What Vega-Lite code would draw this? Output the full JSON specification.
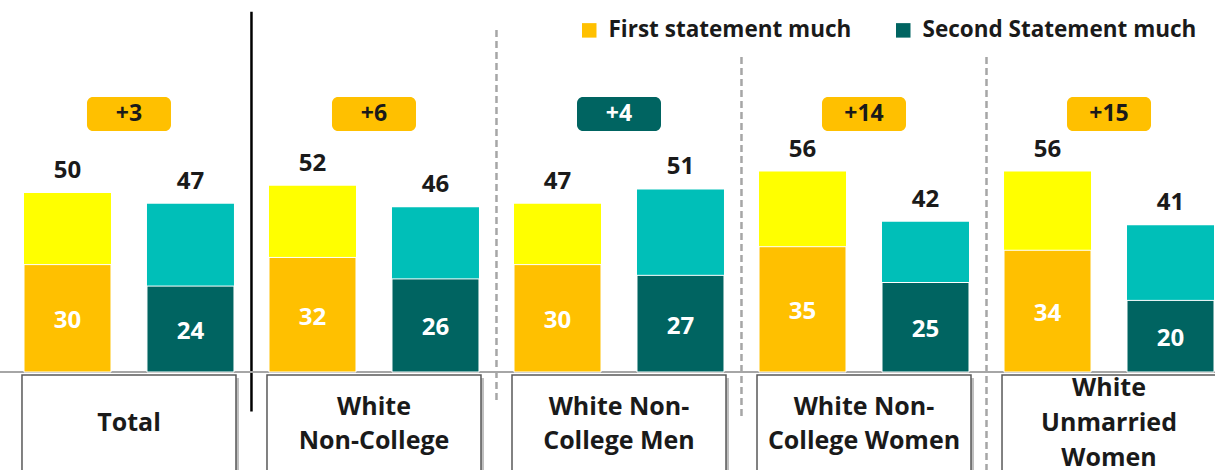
{
  "$schema": "https://vega.github.io/schema/vega-lite/v6.json",
  "width": 1215,
  "height": 470,
  "autosize": {"type": "none"},
  "padding": 0,
  "background": "white",
  "config": {"view": {"stroke": null}, "text": {"font": "Open Sans"}, "legend": {"labelFont": "Open Sans"}},
  "datasets": {
    "bars": [
      {"group": "Total", "statement": "First statement much", "total": 50, "much": 30},
      {"group": "Total", "statement": "Second Statement much", "total": 47, "much": 24},
      {"group": "White Non-College", "statement": "First statement much", "total": 52, "much": 32},
      {"group": "White Non-College", "statement": "Second Statement much", "total": 46, "much": 26},
      {"group": "White Non-College Men", "statement": "First statement much", "total": 47, "much": 30},
      {"group": "White Non-College Men", "statement": "Second Statement much", "total": 51, "much": 27},
      {"group": "White Non-College Women", "statement": "First statement much", "total": 56, "much": 35},
      {"group": "White Non-College Women", "statement": "Second Statement much", "total": 42, "much": 25},
      {"group": "White Unmarried Women", "statement": "First statement much", "total": 56, "much": 34},
      {"group": "White Unmarried Women", "statement": "Second Statement much", "total": 41, "much": 20}
    ],
    "groups": [
      {"group": "Total", "label": ["Total"], "diff": "+3", "statement": "First statement much", "sep": "solid"},
      {"group": "White Non-College", "label": ["White", "Non-College"], "diff": "+6", "statement": "First statement much", "sep": "dash1"},
      {"group": "White Non-College Men", "label": ["White Non-", "College Men"], "diff": "+4", "statement": "Second Statement much", "sep": "dash2"},
      {"group": "White Non-College Women", "label": ["White Non-", "College Women"], "diff": "+14", "statement": "First statement much", "sep": "dash3"},
      {"group": "White Unmarried Women", "label": ["White", "Unmarried", "Women"], "diff": "+15", "statement": "First statement much", "sep": "none"}
    ]
  },
  "encoding": {
    "x": {
      "field": "group", "type": "nominal", "axis": null, "sort": null,
      "scale": {
        "domain": ["Total", "White Non-College", "White Non-College Men", "White Non-College Women", "White Unmarried Women"],
        "range": [24, 1214], "paddingInner": 0.143, "paddingOuter": 0
      }
    }
  },
  "layer": [
    {
      "data": {"name": "groups"},
      "mark": {"type": "bar", "width": 214, "fill": "#BFBFBF", "xOffset": 3, "yOffset": 3},
      "encoding": {
        "y": {"datum": -0.85, "type": "quantitative", "axis": null, "scale": {"domain": [0, 100], "range": [372, 14]}},
        "y2": {"datum": -40}
      }
    },
    {
      "data": {"name": "groups"},
      "mark": {"type": "bar", "width": 214, "fill": "white", "stroke": "#595959", "strokeWidth": 1.5},
      "encoding": {
        "y": {"datum": -0.85, "type": "quantitative"},
        "y2": {"datum": -40}
      }
    },
    {
      "data": {"name": "groups"},
      "transform": [{"filter": "datum.label.length === 1"}],
      "mark": {"type": "text", "fontSize": 25, "fontWeight": "bold", "color": "#1A1A1A", "baseline": "middle", "lineHeight": 35},
      "encoding": {
        "y": {"datum": -14.25, "type": "quantitative"},
        "text": {"field": "label"}
      }
    },
    {
      "data": {"name": "groups"},
      "transform": [{"filter": "datum.label.length === 2"}],
      "mark": {"type": "text", "fontSize": 25, "fontWeight": "bold", "color": "#1A1A1A", "baseline": "middle", "lineHeight": 34},
      "encoding": {
        "y": {"datum": -9.8, "type": "quantitative"},
        "text": {"field": "label"}
      }
    },
    {
      "data": {"name": "groups"},
      "transform": [{"filter": "datum.label.length === 3"}],
      "mark": {"type": "text", "fontSize": 25, "fontWeight": "bold", "color": "#1A1A1A", "baseline": "middle", "lineHeight": 35},
      "encoding": {
        "y": {"datum": -4.5, "type": "quantitative"},
        "text": {"field": "label"}
      }
    },
    {
      "data": {"name": "groups"},
      "transform": [{"filter": "datum.sep === 'solid'"}],
      "mark": {"type": "rule", "color": "black", "strokeWidth": 2.5, "xOffset": 17.5},
      "encoding": {
        "x": {"field": "group", "type": "nominal", "bandPosition": 1},
        "y": {"datum": 100.6, "type": "quantitative"},
        "y2": {"datum": -11}
      }
    },
    {
      "data": {"name": "groups"},
      "transform": [{"filter": "datum.sep === 'dash1'"}],
      "mark": {"type": "rule", "color": "#A6A6A6", "strokeWidth": 2.5, "strokeDash": [7, 4], "xOffset": 17.5},
      "encoding": {
        "x": {"field": "group", "type": "nominal", "bandPosition": 1},
        "y": {"datum": 95.5, "type": "quantitative"},
        "y2": {"datum": -8}
      }
    },
    {
      "data": {"name": "groups"},
      "transform": [{"filter": "datum.sep === 'dash2'"}],
      "mark": {"type": "rule", "color": "#A6A6A6", "strokeWidth": 2.5, "strokeDash": [7, 4], "xOffset": 17.5},
      "encoding": {
        "x": {"field": "group", "type": "nominal", "bandPosition": 1},
        "y": {"datum": 88, "type": "quantitative"},
        "y2": {"datum": -13.4}
      }
    },
    {
      "data": {"name": "groups"},
      "transform": [{"filter": "datum.sep === 'dash3'"}],
      "mark": {"type": "rule", "color": "#A6A6A6", "strokeWidth": 2.5, "strokeDash": [7, 4], "xOffset": 17.5},
      "encoding": {
        "x": {"field": "group", "type": "nominal", "bandPosition": 1},
        "y": {"datum": 88, "type": "quantitative"},
        "y2": {"datum": -30}
      }
    },
    {
      "data": {"name": "bars"},
      "mark": {"type": "rule", "color": "#A6A6A6", "strokeWidth": 1.5},
      "encoding": {
        "x": null,
        "y": {"datum": 0, "type": "quantitative"}
      }
    },
    {
      "data": {"name": "bars"},
      "mark": {"type": "bar"},
      "encoding": {
        "xOffset": {"field": "statement", "type": "nominal", "scale": {"paddingInner": 0.2927, "paddingOuter": 0}},
        "y": {"field": "total", "type": "quantitative"},
        "fill": {"condition": {"test": "datum.statement === 'First statement much'", "value": "#FFFF00"}, "value": "#00BFB8"}
      }
    },
    {
      "data": {"name": "bars"},
      "mark": {"type": "bar", "stroke": "white", "strokeWidth": 1},
      "encoding": {
        "xOffset": {"field": "statement", "type": "nominal"},
        "y": {"field": "much", "type": "quantitative"},
        "color": {
          "field": "statement", "type": "nominal",
          "scale": {"domain": ["First statement much", "Second Statement much"], "range": ["#FFC000", "#006461"]},
          "legend": {
            "title": null, "orient": "none", "legendX": 578, "legendY": 19, "direction": "horizontal",
            "symbolType": "square", "symbolSize": 210, "symbolStrokeWidth": 0, "labelFontSize": 22.5,
            "labelFontWeight": "bold", "labelColor": "#1A1A1A", "labelOffset": 8, "columnPadding": 40, "labelLimit": 400
          }
        }
      }
    },
    {
      "data": {"name": "bars"},
      "mark": {"type": "text", "fontSize": 24, "fontWeight": "bold", "color": "#1A1A1A", "baseline": "middle", "dy": -22},
      "encoding": {
        "xOffset": {"field": "statement", "type": "nominal"},
        "y": {"field": "total", "type": "quantitative"},
        "text": {"field": "total", "type": "quantitative"}
      }
    },
    {
      "data": {"name": "bars"},
      "mark": {"type": "text", "fontSize": 24, "fontWeight": "bold", "color": "white", "baseline": "middle", "dy": 3},
      "encoding": {
        "xOffset": {"field": "statement", "type": "nominal"},
        "y": {"datum": 0, "type": "quantitative"},
        "yOffset": {"field": "much", "type": "quantitative", "scale": {"domain": [0, 100], "range": [0, -179]}},
        "text": {"field": "much", "type": "quantitative"}
      }
    },
    {
      "data": {"name": "groups"},
      "mark": {"type": "bar", "width": 84, "cornerRadius": 6},
      "encoding": {
        "y": {"datum": 76.8, "type": "quantitative"},
        "y2": {"datum": 67.3},
        "color": {"field": "statement", "type": "nominal"}
      }
    },
    {
      "data": {"name": "groups"},
      "mark": {"type": "text", "fontSize": 23, "fontWeight": "bold", "baseline": "middle"},
      "encoding": {
        "y": {"datum": 72.07, "type": "quantitative"},
        "text": {"field": "diff"},
        "color": {"condition": {"test": "datum.statement === 'Second Statement much'", "value": "white"}, "value": "#1A1A1A"}
      }
    }
  ]
}
